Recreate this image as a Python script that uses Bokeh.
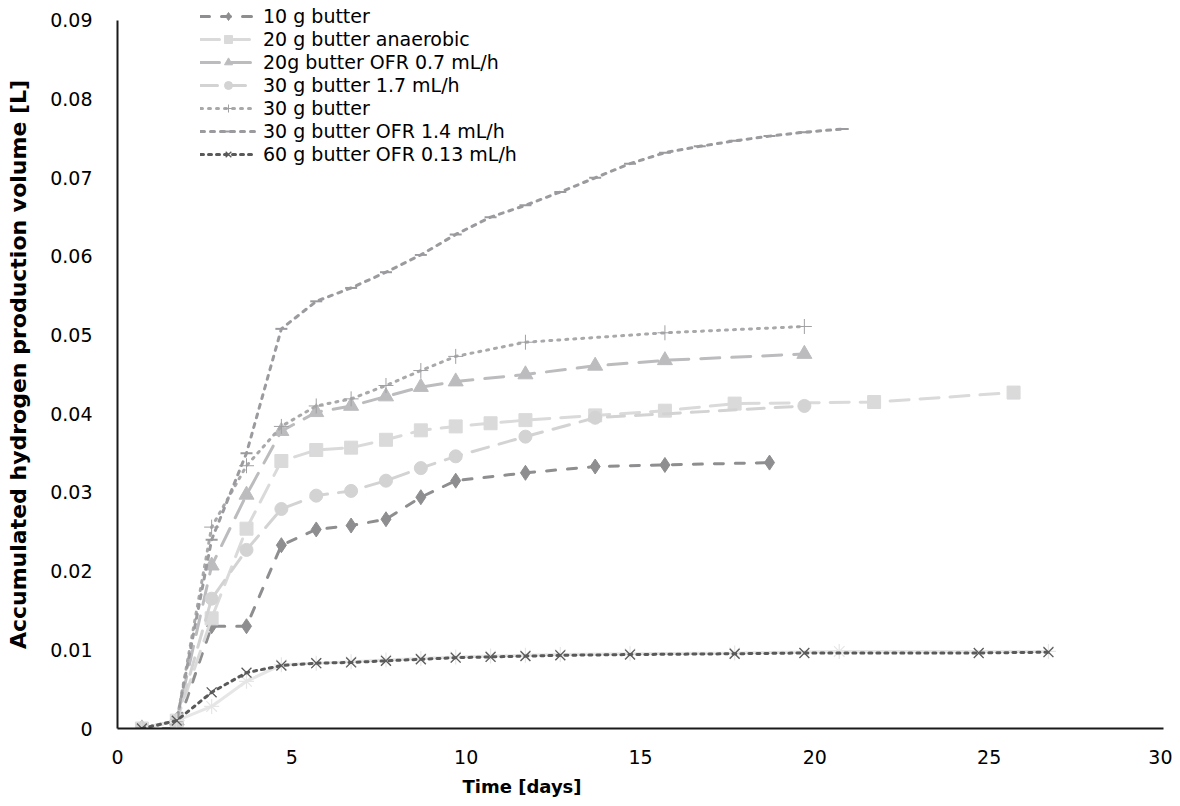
from bokeh.plotting import figure
from bokeh.models import Range1d, FixedTicker, Legend, LegendItem, Title
from bokeh.embed import file_html
from bokeh.resources import INLINE

# ---- data ----
d_10g = [0.7, 1.7, 2.7, 3.7, 4.7, 5.7, 6.7, 7.7, 8.7, 9.7, 11.7, 13.7, 15.7, 18.7]
v_10g = [0, 0, 0.013, 0.013, 0.0233, 0.0253, 0.0258, 0.0266, 0.0294, 0.0315, 0.0325, 0.0333, 0.0335, 0.0338]

d_20an = [0.7, 1.7, 2.7, 3.7, 4.7, 5.7, 6.7, 7.7, 8.7, 9.7, 10.7, 11.7, 13.7, 15.7, 17.7, 21.7, 25.7]
v_20an = [0, 0.001, 0.014, 0.0254, 0.034, 0.0354, 0.0357, 0.0367, 0.0379, 0.0384, 0.0388, 0.0392, 0.0398,
          0.0404, 0.0413, 0.0415, 0.0427]

d_20ofr = [0.7, 1.7, 2.7, 3.7, 4.7, 5.7, 6.7, 7.7, 8.7, 9.7, 11.7, 13.7, 15.7, 19.7]
v_20ofr = [0, 0.001, 0.0207, 0.0297, 0.0378, 0.0402, 0.041, 0.0422, 0.0434, 0.0441, 0.045, 0.0461, 0.0468, 0.0476]

d_30_17 = [0.7, 1.7, 2.7, 3.7, 4.7, 5.7, 6.7, 7.7, 8.7, 9.7, 11.7, 13.7, 19.7]
v_30_17 = [0, 0.001, 0.0165, 0.0227, 0.0279, 0.0296, 0.0302, 0.0315, 0.0331, 0.0346, 0.0371, 0.0395, 0.041]

d_30 = [0.7, 1.7, 2.7, 3.7, 4.7, 5.7, 6.7, 7.7, 8.7, 9.7, 11.7, 15.7, 19.7]
v_30 = [0, 0.001, 0.0256, 0.0334, 0.0384, 0.041, 0.0419, 0.0436, 0.0455, 0.0473, 0.0491, 0.0503, 0.0511]

d_30ofr = [0.7, 1.7, 2.7, 3.7, 4.7, 5.7, 6.7, 7.7, 8.7, 9.7, 10.7, 11.7, 12.7, 13.7, 14.7, 15.7, 16.7,
           17.7, 18.7, 19.7, 20.8]
v_30ofr = [0, 0.001, 0.024, 0.035, 0.0508, 0.0543, 0.056, 0.058, 0.0602, 0.0628, 0.065, 0.0665, 0.0682,
           0.07, 0.0718, 0.0732, 0.074, 0.0747, 0.0753, 0.0758, 0.0762]

d_extra = [0.7, 1.7, 2.7, 3.7, 4.7, 5.7, 6.7, 7.7, 8.7, 9.7, 10.7, 11.7, 12.7, 14.7, 17.7, 20.7, 26.7]
v_extra = [0, 0.001, 0.0028, 0.006, 0.0081, 0.0083, 0.0085, 0.0087, 0.0089, 0.0091, 0.0092, 0.0093,
           0.0094, 0.0095, 0.0096, 0.0098, 0.0098]

d_60 = [0.7, 1.7, 2.7, 3.7, 4.7, 5.7, 6.7, 7.7, 8.7, 9.7, 10.7, 11.7, 12.7, 14.7, 17.7, 19.7, 24.7, 26.7]
v_60 = [0, 0.001, 0.0046, 0.0071, 0.008, 0.0083, 0.0084, 0.0086, 0.0088, 0.009, 0.0091, 0.0092, 0.0093,
        0.0094, 0.0095, 0.0096, 0.0096, 0.0097]

labels = ["10 g butter", "20 g butter anaerobic", "20g butter OFR 0.7 mL/h", "30 g butter 1.7 mL/h",
          "30 g butter", "30 g butter OFR 1.4 mL/h", "60 g butter OFR 0.13 mL/h"]

x_ticks = [0, 5, 10, 15, 20, 25, 30]
y_ticks = [0, 0.01, 0.02, 0.03, 0.04, 0.05, 0.06, 0.07, 0.08, 0.09]
y_tick_labels = ["0", "0.01", "0.02", "0.03", "0.04", "0.05", "0.06", "0.07", "0.08", "0.09"]

FONT = "DejaVu Sans"
Y_MAX = 0.09
Y_TOP = Y_MAX * 729 / 709  # headroom above the last tick so the legend fits in the frame

p = figure(width=1172, height=804, output_backend="svg", toolbar_location=None,
           x_range=Range1d(0, 30), y_range=Range1d(0, Y_TOP),
           min_border_left=117, min_border_right=9, min_border_top=0, min_border_bottom=75)
p.outline_line_color = None
p.xgrid.visible = False
p.ygrid.visible = False
p.background_fill_color = "white"

p.xaxis.ticker = FixedTicker(ticks=x_ticks)
p.yaxis.ticker = FixedTicker(ticks=y_ticks)
p.yaxis.bounds = (0, Y_MAX)
p.yaxis.major_label_overrides = {t: s for t, s in zip(y_ticks, y_tick_labels)}
for ax in (p.xaxis[0], p.yaxis[0]):
    ax.axis_line_color = "#1a1a1a"
    ax.axis_line_width = 2
    ax.major_tick_line_color = None
    ax.minor_tick_line_color = None
    ax.major_label_text_font = FONT
    ax.major_label_text_font_size = "19px"
    ax.major_label_text_color = "#000000"
    ax.axis_label_text_font = FONT
    ax.axis_label_text_font_style = "bold"
    ax.axis_label_text_color = "#000000"
p.yaxis.axis_label = "Accumulated hydrogen production volume [L]"
p.yaxis.axis_label_text_font_size = "22px"
p.xaxis.major_label_standoff = 15
p.yaxis.major_label_standoff = 19
p.yaxis.axis_label_standoff = 16

xt = Title(text="Time [days]", align="left", offset=345, text_font=FONT, text_font_size="18px",
           text_font_style="bold", text_color="#000000", standoff=15)
p.add_layout(xt, "below")

items = []

def add(d, v, color, dash, marker, size, label, mline=None, mlw=1.0, fill=True, lw=3.0):
    r1 = p.line(d, v, line_color=color, line_width=lw, line_dash=dash, line_cap="round")
    if fill:
        r2 = p.scatter(d, v, marker=marker, size=size, fill_color=color, line_color=color)
    else:
        r2 = p.scatter(d, v, marker=marker, size=size, line_color=mline or color, line_width=mlw)
    if label:
        items.append(LegendItem(label=label, renderers=[r1, r2]))

add(d_10g, v_10g, "#8e8e90", "9 12", "diamond", 15, labels[0])
add(d_20an, v_20an, "#dadadb", "19 11", "square", 13, labels[1])
add(d_20ofr, v_20ofr, "#bcbcbf", "19 12", "triangle", 15, labels[2])
add(d_30_17, v_30_17, "#d3d3d4", "17 11", "circle", 13, labels[3])
add(d_30, v_30, "#a9a9ac", "2 6", "cross", 15, labels[4], mline="#a0a0a3", fill=False)
add(d_30ofr, v_30ofr, "#9b9b9f", "4 6", "dash", 12, labels[5], fill=False, mlw=2)
add(d_extra, v_extra, "#e6e6e6", "solid", "asterisk", 15, None, fill=False, mlw=1.2)
add(d_60, v_60, "#5a5a5a", "3 5", "x", 14, labels[6], fill=False, mlw=1.3)

legend = Legend(items=items, location=(83, 563), orientation="vertical",
                label_text_font=FONT, label_text_font_size="19px", label_text_color="#000000",
                glyph_width=56, glyph_height=20, label_height=20, label_standoff=7, spacing=1,
                padding=0, margin=0, border_line_color=None, background_fill_alpha=0)
p.add_layout(legend, "center")

open("out.html", "w").write(file_html(p, INLINE))
